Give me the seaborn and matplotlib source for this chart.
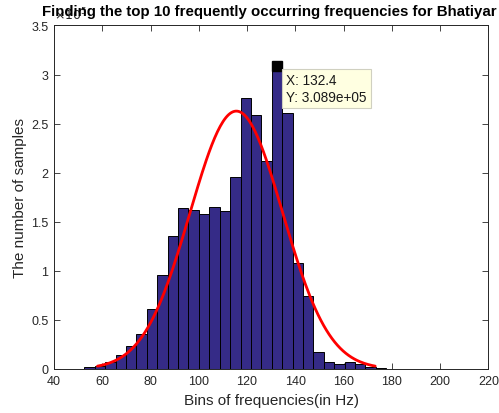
import matplotlib
matplotlib.use("Agg")
import matplotlib.pyplot as plt
import numpy as np
import pandas as pd
import seaborn as sns

# histogram (bin centres in Hz, counts in samples)
bin_centers = [54.73, 59.05, 63.36, 67.68, 71.99, 76.31, 80.62, 84.94, 89.25, 93.57,
               97.88, 102.20, 106.51, 110.83, 115.14, 119.46, 123.77, 128.09, 132.40, 136.72,
               141.03, 145.35, 149.66, 153.98, 158.29, 162.61, 166.92, 171.24, 175.55]
counts = [1600, 3500, 7000, 14600, 23000, 36000, 61000, 96000, 136000, 164000,
          162000, 158000, 165000, 161000, 196000, 276000, 259000, 212000, 308900, 261000,
          108000, 74000, 17000, 7000, 4800, 7000, 4800, 2500, 1300]
bin_width = 4.315

tip_x = 132.4
tip_y = 308900

xticks = [40, 60, 80, 100, 120, 140, 160, 180, 200, 220]
yticks = [0, 50000, 100000, 150000, 200000, 250000, 300000, 350000]

sns.set_style("ticks")
plt.rcParams['font.family'] = ['Liberation Sans', 'DejaVu Sans']

fig = plt.figure(figsize=(4.99, 4.14), dpi=100)
ax = fig.add_axes([0.1082, 0.1063, 0.8704, 0.8297])

df = pd.DataFrame({'freq': bin_centers, 'n': counts})
lo = bin_centers[0] - bin_width / 2
hi = bin_centers[-1] + bin_width / 2
sns.histplot(data=df, x='freq', weights='n', binwidth=bin_width, binrange=(lo, hi),
             color='#352b87', edgecolor='black', linewidth=0.7, alpha=1, ax=ax)

# normal fit (histfit style, mu +/- 3 sigma)
centers = np.array(bin_centers)
c = np.array(counts, dtype=float)
mu = np.sum(c * centers) / c.sum()
sigma = np.sqrt(np.sum(c * (centers - mu) ** 2) / c.sum())
xs = np.linspace(mu - 3 * sigma, mu + 3 * sigma, 200)
ys = c.sum() * bin_width / (sigma * np.sqrt(2 * np.pi)) * np.exp(-(xs - mu) ** 2 / (2 * sigma ** 2))
sns.lineplot(x=xs, y=ys, color='red', linewidth=2, ax=ax)

# data tip
ax.plot([tip_x], [tip_y], marker='s', color='black', markersize=7, linestyle='none')
ax.annotate("X: %.1f\nY: %.3e" % (tip_x, tip_y), xy=(tip_x, tip_y), xytext=(9, -7),
            textcoords='offset pixels', ha='left', va='top', fontsize=9.8, color='#1a1a1a',
            linespacing=1.3,
            bbox=dict(boxstyle='square,pad=0.3', fc='#ffffe1', ec='#d0d0c0', lw=0.8))

ax.set_xlim(40, 220)
ax.set_ylim(0, 350000)
ax.set_xticks(xticks)
ax.set_yticks(yticks)
ax.set_yticklabels(["%g" % (v / 1e5) for v in yticks])
ax.tick_params(direction='in', length=4, width=0.6, top=True, right=True,
               labelsize=9, colors='#262626', pad=4)
for s in ax.spines.values():
    s.set_visible(True)
    s.set_color('#262626')
    s.set_linewidth(0.7)

ax.set_xlabel("Bins of frequencies(in Hz)", fontsize=11, color='#262626', labelpad=5)
ax.set_ylabel("The number of samples", fontsize=11, color='#262626', labelpad=3)
ax.text(0.0, 1.008, r"$\times 10^5$", transform=ax.transAxes, fontsize=9, color='#262626',
        ha='left', va='bottom')

fig.text(42 / 499, 1 - 12 / 414, "Finding the top 10 frequently occurring frequencies for Bhatiyar",
         fontsize=10.8, fontweight='bold', ha='left', va='center', color='black')

fig.savefig("out.png", dpi=100)
